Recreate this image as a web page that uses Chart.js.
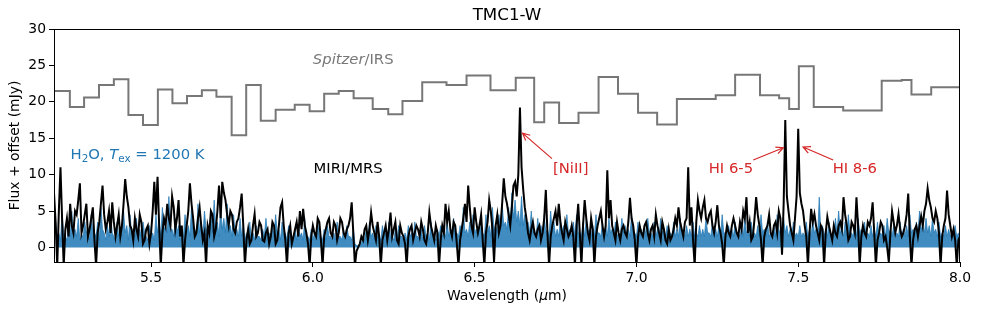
<!DOCTYPE html>
<html>
<head>
<meta charset="utf-8">
<title>TMC1-W</title>
<script src="https://cdn.jsdelivr.net/npm/chart.js@4.4.1/dist/chart.umd.min.js"></script>
<style>
  html, body { margin: 0; padding: 0; background: #fff; }
</style>
</head>
<body>
<canvas id="spectrum" width="981" height="313"></canvas>
<script>
// MIRI/MRS spectrum (black), one value every 0.005 um from 5.200 um
const miriStart = 5.200;
const miriStep = 0.005;
const miriFlux = [
    7.5, 3.5, -2.5, 5, 11, 4, -2.5, 2.5, 4, 1.5, 6, 3, 2, 5, 4.5, 6.5, 8.8, 2, 3, 4.5,
    6, 1.5, 2.5, 4, 5.5, 1, -2.5, 2, 3.5, 6, 8.5, 4.5, 2.5, 3.5, 5, 2, 6.2, 3.5, 1.5, 3,
    4.5, 1.5, 3, 6, 9.4, 7, 5.5, 3, 2.5, 1, 4, 2.5, 1.5, 4.5, 3.5, 0.5, 1, 2.5, 3, 0.5,
    2, 5, 9, 4.5, 9.7, 3, -2.5, 2, 4, 3, 6, 4, 3, 7, 5.5, 2.5, 4, 6.5, 1.5, 3,
    -2.5, 1, 3, 5, 8.8, 6, 4, 1.5, 2, 4, 5.5, 3, 1, 2, -2.5, 3, 2, 5, 4.5, 1.5,
    2.5, 5, 8.5, 4, 9, 7.5, 6.5, 4.5, 3, 5, 4.5, 2.5, 2, 3.5, 4, 5.5, 7.4, 3, -2.5, 1,
    2.5, 0.5, 1, 3, 4.6, 1.5, 2, 3.5, 3, 1, 0.8, 2, 2.5, 0.5, 1.5, 3.5, 3, 0.5, 1, 3,
    5.5, 6.2, 3, 1, -2.5, 2, 3, 0.5, 1.5, 2.5, 3.5, 1.5, 5, 2.5, 5.3, 3, 2, 0.5, -2.5, 1.5,
    3, 2, 1.5, 4, 3.5, 1, -2.5, 1.5, 2.5, 3.5, 4, 2, 1.5, 3.5, 3, 1, 2, 4, 3.5, 2,
    1.5, 2.5, 3, 4, 6.2, 2, -2.5, -0.5, 0, 0.5, 1.5, 1, 2.5, 3, 1, 2.5, 4.8, 3, 2, 1,
    3.5, 1.5, -2.5, 1, 2, 3, 1, 2.5, 4.8, 1.5, 2.5, 3.5, 1, 0.5, 3, 2, 1.5, 0.5, -2.5, 1.5,
    2.5, 3, 1, 2, 3, 2.5, 1.5, 3.5, 2.5, 1, 0.5, 2, 4.8, 3, 2, 1, 3, 2, -2.5, 1,
    3, 2, 6, 3.5, 5, 2.5, 1.5, 3.5, 3, 0.5, -2.5, 1, 2.5, 4, 6, 3.5, 8.5, 5.5, 3, 2,
    5.5, 3.5, 2, 3, 4.5, 1, -2.5, 2, 3.5, 6.5, 5, 2.5, -2, 3, 4.5, 2, 3, 6, 9.5, 7,
    6, 4.5, 3, 5.5, 8.5, 9, 7, 10, 19.2, 11, 8, 5.5, 4, 2, 1, 2.5, 3.5, 2, 1.5, 2.5,
    3, 1, 2, 4, 7.9, 2, -2.5, 1.5, 3, 4, 5, 3, 6, 3.5, 2, 1, 3.5, 2.5, 1.5, 2,
    3, 1.5, -2.5, 3, 6, 2, -2.5, 3, 6.5, 4, 2, 1, 4, 2.5, -2.5, 1.5, 3, 4, 5, 3,
    1.5, 3, 10.6, 4, 6.5, 3, 2, 1, 3.5, 2, 1, 2.5, 3, 2, 1.5, 3.5, 6.8, 4, 3, 1,
    -2.5, 1.5, 3, 2, 1.5, 3, 3.5, 2, 1, 2.5, 3, 1.5, 4.5, 3, 2, 1, 3.5, 2.5, 1, 0.5,
    2.5, 1, 1.5, 2.5, 4, 3, 5.5, 3.5, 2.5, 1.5, 3.5, 4, 11, 3, 5.5, 1, -2.5, 3.5, 6.5, 5,
    4, 5.5, 6.5, 4, 3.5, 4.5, 5, 3, 2, 3.5, 5.8, 3, 2, 0.5, -2.5, 1.5, 3, 2, 1.5, 3,
    4, 3, 2, 1.5, 3.5, 2.5, 5, 4, 6.9, 2, 3.5, 1, 1.5, 4, 6.9, 4.5, 3, 1, -2.5, 1.5,
    2.5, 3, 4.5, 2, 1.5, 3, 3.5, 2, 5, 4, -1, 6, 17.5, 7, 5, 3, 2, 1, 4, 7,
    16.3, 7.5, 6, 5, 3, 1.5, -2.5, 2, 5.3, 3.5, 4.6, 3, 2, 1, 3, 2.5, -2.5, 2, 4.2, 3,
    2, 1, 3, 2, 1.5, 3, 3.5, 2.5, 6.9, 4.5, 3, 1, 1.5, 3.5, 3, 2, 6.9, 3, -2.5, 1.5,
    3, 2, 1.5, 3.5, 3, 4, 6.2, 2, -2.5, 1, 2, 3.5, 3, 1, 1.5, 0, -2, 2, 5, 3.5,
    2, 3, 4.6, 2.5, 1.5, 2, 3, 4.5, 7.4, 1.5, -2.5, 1, 2.5, 3, 1.5, 3, 4.3, 3, 5, 6,
    8.1, 6.5, 5.5, 4, 3.5, 5, 4, 2, -2.5, 1.5, 3, 4, 7.8, 4.5, 3, 1.5, 2.5, 1, -2.5, 1,
    1.5
];

// H2O slab model (blue fill), one value every 0.005 um from 5.205 um
const h2oStart = 5.205;
const h2oStep = 0.005;
const h2oFlux = [
    3.5, 1.5, 2.0, 1.0, 4.5, 2.0, 1.5, 1.0, 3.0, 1.5, 5.0, 2.0, 2.5, 1.5, 4.0, 1.0, 1.8, 1.5, 3.5, 2.0,
    2.5, 1.0, 4.5, 2.0, 2.0, 1.5, 3.5, 1.0, 5.5, 2.5, 2.0, 1.0, 3.0, 1.5, 4.5, 2.0, 1.5, 1.0, 3.5, 1.5,
    2.5, 1.5, 5.0, 2.0, 3.0, 1.0, 4.5, 2.0, 2.0, 1.5, 4.0, 1.0, 2.5, 1.5, 3.5, 2.0, 1.5, 1.0, 3.0, 1.5,
    2.0, 1.0, 4.5, 2.0, 3.5, 1.5, 5.5, 2.5, 3.0, 2.0, 7.0, 2.5, 2.5, 1.5, 4.0, 2.0, 3.0, 1.0, 2.0, 1.5,
    4.5, 2.0, 3.0, 1.5, 5.5, 2.5, 2.5, 1.5, 6.0, 2.0, 3.5, 1.5, 5.0, 2.5, 2.5, 1.5, 4.5, 2.0, 6.5, 2.5,
    3.5, 1.5, 5.5, 2.5, 4.0, 2.0, 6.0, 2.5, 3.0, 1.5, 4.5, 2.0, 2.5, 1.5, 4.0, 1.5, 3.0, 1.0, 2.0, 1.5,
    3.5, 1.0, 2.0, 1.0, 3.0, 1.5, 1.5, 1.0, 2.5, 1.5, 4.0, 1.5, 2.0, 1.0, 3.0, 1.5, 4.5, 2.0, 2.5, 1.0,
    3.5, 1.5, 2.0, 1.0, 3.0, 1.5, 1.5, 1.0, 2.5, 1.0, 3.0, 1.5, 2.0, 1.0, 4.0, 1.5, 1.5, 1.0, 2.5, 1.0,
    2.0, 1.0, 3.5, 1.5, 1.5, 1.0, 2.5, 1.0, 3.0, 1.5, 1.5, 1.0, 2.0, 1.0, 3.5, 1.5, 1.5, 1.0, 2.5, 1.0,
    3.0, 1.5, 1.5, 1.0, 2.5, 0.5, 0.3, 0.2, 0.5, 0.5, 1.5, 1.0, 2.5, 1.0, 3.5, 1.5, 2.0, 1.0, 3.0, 1.5,
    1.5, 1.0, 3.0, 1.5, 2.0, 1.0, 3.5, 1.5, 1.5, 1.0, 2.5, 1.0, 3.0, 1.5, 1.5, 1.0, 2.0, 1.0, 3.0, 1.5,
    2.0, 1.0, 3.5, 1.5, 1.5, 1.0, 2.5, 1.0, 3.0, 1.5, 2.0, 1.0, 3.5, 1.5, 1.5, 1.0, 2.5, 1.5, 3.0, 1.5,
    2.0, 1.5, 3.5, 1.5, 2.5, 1.5, 4.0, 2.0, 2.0, 1.5, 3.0, 1.5, 5.5, 2.0, 2.5, 1.5, 3.5, 2.0, 4.5, 2.0,
    2.5, 1.5, 3.5, 2.0, 2.0, 1.5, 4.5, 2.0, 3.0, 1.5, 5.5, 2.5, 3.0, 2.0, 4.5, 2.5, 6.0, 3.0, 3.5, 2.5,
    5.5, 3.0, 7.5, 4.0, 6.5, 3.5, 5.0, 3.0, 7.0, 3.0, 4.5, 2.5, 3.5, 2.0, 5.0, 2.0, 2.5, 1.5, 4.0, 2.0,
    3.0, 1.5, 4.5, 2.0, 2.5, 1.5, 5.0, 2.0, 3.5, 1.5, 2.5, 1.5, 4.0, 2.0, 3.0, 1.5, 4.5, 2.0, 2.5, 1.5,
    3.5, 1.5, 4.5, 2.0, 2.0, 1.5, 3.5, 1.5, 4.0, 2.0, 2.5, 1.5, 3.0, 1.5, 4.5, 2.0, 2.0, 1.5, 3.5, 1.5,
    3.0, 1.5, 4.0, 2.0, 2.5, 1.5, 3.5, 1.5, 2.0, 1.5, 4.0, 2.0, 3.0, 1.5, 2.5, 1.5, 4.5, 2.0, 2.0, 1.5,
    3.5, 1.5, 2.5, 1.5, 3.0, 1.5, 4.0, 2.0, 2.0, 1.5, 3.5, 1.5, 2.5, 1.5, 4.0, 2.0, 2.5, 1.5, 3.0, 1.5,
    2.0, 1.5, 3.5, 1.5, 2.5, 1.5, 4.0, 2.0, 2.0, 1.5, 3.0, 1.5, 2.5, 1.5, 3.5, 1.5, 2.0, 1.5, 3.0, 1.5,
    2.5, 1.5, 4.0, 2.0, 2.0, 1.5, 3.5, 1.5, 2.5, 1.5, 3.0, 1.5, 4.5, 2.0, 2.0, 1.5, 3.0, 1.5, 2.5, 1.5,
    3.5, 1.5, 2.0, 1.5, 3.0, 1.5, 4.0, 2.0, 2.5, 1.5, 3.5, 1.5, 2.0, 1.5, 3.0, 1.5, 4.5, 2.0, 2.5, 1.5,
    3.5, 1.5, 2.0, 1.5, 3.0, 1.5, 4.5, 2.0, 2.5, 1.5, 4.0, 2.0, 3.0, 1.5, 2.5, 1.5, 3.5, 1.5, 2.0, 1.5,
    3.0, 1.5, 2.0, 1.5, 3.5, 1.5, 2.5, 1.5, 4.0, 2.0, 2.5, 1.5, 6.9, 2.0, 3.0, 1.5, 2.5, 1.5, 3.5, 1.5,
    2.0, 1.5, 4.0, 2.0, 5.0, 2.0, 2.5, 1.5, 3.5, 1.5, 4.5, 2.0, 2.0, 1.5, 3.0, 1.5, 4.0, 2.0, 2.5, 1.5,
    3.5, 1.5, 2.0, 1.5, 3.0, 1.5, 2.5, 1.5, 3.5, 1.5, 2.0, 1.5, 3.0, 1.5, 4.0, 2.0, 2.5, 1.5, 3.0, 1.5,
    2.0, 1.5, 3.5, 1.5, 2.5, 1.5, 3.0, 1.5, 4.5, 2.0, 2.5, 1.5, 3.5, 2.0, 5.0, 2.5, 3.0, 2.0, 4.0, 2.0,
    3.0, 1.5, 4.0, 2.0, 2.5, 1.5, 3.5, 1.5, 2.0, 1.5, 3.0, 1.5, 2.5, 1.5, 2.0, 1.5, 3.0, 1.5, 2.0, 1.5
];

// Spitzer/IRS binned spectrum + offset: bin edges (um) and flux per bin
const irsEdges = [
    5.200, 5.249, 5.293, 5.339, 5.385, 5.430, 5.475, 5.521, 5.566, 5.611,
    5.657, 5.702, 5.749, 5.794, 5.839, 5.885, 5.944, 5.990, 6.035, 6.080,
    6.126, 6.185, 6.233, 6.277, 6.338, 6.413, 6.475, 6.549, 6.627, 6.684,
    6.715, 6.761, 6.821, 6.883, 6.943, 7.005, 7.064, 7.125, 7.245, 7.305,
    7.382, 7.441, 7.472, 7.502, 7.548, 7.639, 7.758, 7.820, 7.850, 7.911,
    8.000
];
const irsFlux = [
    21.5, 19.3, 20.6, 22.3, 23.1, 18.2, 16.8, 21.7, 19.8, 20.8,
    21.6, 20.7, 15.4, 22.3, 17.4, 18.9, 19.6, 18.7, 21.1, 21.5,
    20.5, 19.0, 18.3, 20.1, 22.7, 22.3, 23.6, 21.6, 23.3, 17.2,
    19.9, 17.1, 18.5, 23.4, 21.1, 18.5, 16.9, 20.4, 20.9, 23.7,
    20.9, 20.5, 19.0, 24.9, 19.3, 18.8, 22.9, 23.0, 21.0, 22.0
];

const xTicks = [5.5, 6.0, 6.5, 7.0, 7.5, 8.0];
const yTicks = [0, 5, 10, 15, 20, 25, 30];

const FONT = '"DejaVu Sans", "Liberation Sans", sans-serif';
const RED = '#d62728';
const BLUE = '#1f77b4';

// text labels (data coords) and arrows
const labels = [
    { x: 6.0, y: 25.7, align: 'left', color: '#777777',
      parts: [{ t: 'Spitzer', it: true }, { t: '/IRS' }] },
    { x: 5.251, y: 12.65, align: 'left', color: BLUE,
      parts: [{ t: 'H' }, { t: '2', sub: true }, { t: 'O, ' }, { t: 'T', it: true },
              { t: 'ex', sub: true }, { t: ' = 1200 K' }] },
    { x: 6.002, y: 10.7, align: 'left', color: '#000000', parts: [{ t: 'MIRI/MRS' }] },
    { x: 6.797, y: 10.8, align: 'center', color: RED, parts: [{ t: '[NiII]' }] },
    { x: 7.292, y: 10.8, align: 'center', color: RED, parts: [{ t: 'HI 6-5' }] },
    { x: 7.675, y: 10.8, align: 'center', color: RED, parts: [{ t: 'HI 8-6' }] }
];
const arrows = [
    { x0: 6.739, y0: 12.2, x1: 6.648, y1: 15.7 },
    { x0: 7.361, y0: 12.0, x1: 7.454, y1: 13.7 },
    { x0: 7.608, y0: 12.0, x1: 7.515, y1: 13.8 }
];

function fontOf(p, size) {
    return (p.it ? 'italic ' : '') + (p.sub ? size * 0.7 : size) + 'px ' + FONT;
}

// draws a run of text pieces (italic / subscript) as one label
function drawRich(ctx, parts, x, y, size, color, align) {
    const widths = parts.map(p => { ctx.font = fontOf(p, size); return ctx.measureText(p.t).width; });
    const total = widths.reduce((a, b) => a + b, 0);
    let cx = align === 'center' ? x - total / 2 : x;
    ctx.fillStyle = color;
    ctx.textBaseline = 'middle';
    ctx.textAlign = 'left';
    parts.forEach((p, i) => {
        ctx.font = fontOf(p, size);
        ctx.fillText(p.t, cx, y + (p.sub ? size * 0.3 : 0));
        cx += widths[i];
    });
}

const decorations = {
    id: 'decorations',
    afterDraw(chart) {
        const ctx = chart.ctx;
        const area = chart.chartArea;
        const xs = chart.scales.x;
        const ys = chart.scales.y;
        ctx.save();

        // full box around the plot
        ctx.strokeStyle = '#000';
        ctx.lineWidth = 1;
        ctx.strokeRect(area.left + 0.5, area.top + 0.5, area.right - area.left - 1, area.bottom - area.top);

        labels.forEach(l => {
            drawRich(ctx, l.parts, xs.getPixelForValue(l.x), ys.getPixelForValue(l.y), 14.8, l.color, l.align);
        });

        ctx.strokeStyle = RED;
        ctx.lineWidth = 1.2;
        arrows.forEach(a => {
            const px0 = xs.getPixelForValue(a.x0), py0 = ys.getPixelForValue(a.y0);
            const px1 = xs.getPixelForValue(a.x1), py1 = ys.getPixelForValue(a.y1);
            const ang = Math.atan2(py1 - py0, px1 - px0);
            ctx.beginPath();
            ctx.moveTo(px0, py0);
            ctx.lineTo(px1, py1);
            ctx.moveTo(px1 - 8 * Math.cos(ang - 0.45), py1 - 8 * Math.sin(ang - 0.45));
            ctx.lineTo(px1, py1);
            ctx.lineTo(px1 - 8 * Math.cos(ang + 0.45), py1 - 8 * Math.sin(ang + 0.45));
            ctx.stroke();
        });

        // title and axis titles
        drawRich(ctx, [{ t: 'TMC1-W' }], (area.left + area.right) / 2, 16, 16.7, '#000', 'center');
        drawRich(ctx, [{ t: 'Wavelength (' }, { t: 'μ', it: true }, { t: 'm)' }],
            (area.left + area.right) / 2, 296, 13.9, '#000', 'center');
        ctx.translate(15, (area.top + area.bottom) / 2);
        ctx.rotate(-Math.PI / 2);
        drawRich(ctx, [{ t: 'Flux + offset (mJy)' }], 0, 0, 13.9, '#000', 'center');
        ctx.restore();
    }
};

const miriPoints = miriFlux.map((v, i) => ({ x: miriStart + i * miriStep, y: v }));
const h2oPoints = h2oFlux.map((v, i) => ({ x: h2oStart + i * h2oStep, y: v }));
const irsPoints = irsFlux.map((v, i) => ({ x: irsEdges[i], y: v }));
irsPoints.push({ x: irsEdges[irsEdges.length - 1], y: irsFlux[irsFlux.length - 1] });

const tickFont = { family: FONT, size: 13.9 };

new Chart(document.getElementById('spectrum').getContext('2d'), {
    type: 'line',
    data: {
        datasets: [
            {
                label: 'MIRI/MRS',
                data: miriPoints,
                borderColor: '#000000',
                borderWidth: 2,
                pointRadius: 0,
                fill: false,
                order: 0
            },
            {
                label: 'Spitzer/IRS',
                data: irsPoints,
                borderColor: '#777777',
                borderWidth: 2,
                pointRadius: 0,
                stepped: 'before',
                fill: false,
                order: 1
            },
            {
                label: 'H2O',
                data: h2oPoints,
                borderColor: 'rgba(31,119,180,0.9)',
                backgroundColor: 'rgba(31,119,180,0.85)',
                borderWidth: 0.8,
                pointRadius: 0,
                fill: 'origin',
                order: 2
            }
        ]
    },
    options: {
        responsive: false,
        animation: false,
        layout: { padding: { top: 29, right: 21, left: 0, bottom: 0 } },
        plugins: {
            legend: { display: false },
            tooltip: { enabled: false },
            title: { display: false }
        },
        scales: {
            x: {
                type: 'linear',
                min: 5.2,
                max: 8.0,
                afterFit: scale => { scale.height = 51; },
                afterBuildTicks: scale => { scale.ticks = xTicks.map(v => ({ value: v })); },
                grid: { drawOnChartArea: false, tickLength: 5, color: '#000' },
                border: { color: '#000' },
                ticks: {
                    font: tickFont,
                    color: '#000',
                    padding: 3,
                    maxRotation: 0,
                    callback: v => v.toFixed(1)
                }
            },
            y: {
                type: 'linear',
                min: -2,
                max: 30,
                afterFit: scale => { scale.width = 54; },
                afterBuildTicks: scale => { scale.ticks = yTicks.map(v => ({ value: v })); },
                grid: { drawOnChartArea: false, tickLength: 5, color: '#000' },
                border: { color: '#000' },
                ticks: {
                    font: tickFont,
                    color: '#000',
                    padding: 3,
                    callback: v => String(v)
                }
            }
        }
    },
    plugins: [decorations]
});
</script>
</body>
</html>
